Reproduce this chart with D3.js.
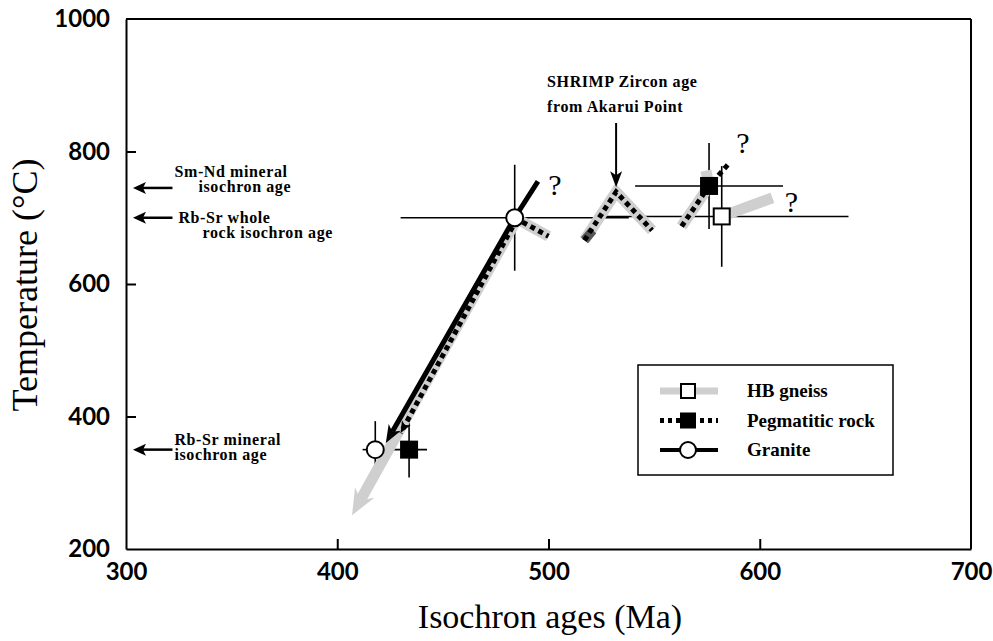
<!DOCTYPE html>
<meta charset="utf-8">
<style>
body { margin: 0; background: #fff; }
.axis path, .axis line { stroke: #000; stroke-width: 2px; }
.axis text { font-family: Lato, "Open Sans", sans-serif; font-weight: 700; font-size: 24px; fill: #000; }
.note { font-family: "Liberation Serif", "Times New Roman", serif; font-weight: 700; font-size: 16px; letter-spacing: 0.6px; }
.title { font-family: "Liberation Serif", "Times New Roman", serif; }
.eb { stroke: #000; stroke-width: 1.6px; }
</style>
<svg width="993" height="641"></svg>
<script src="https://d3js.org/d3.v7.min.js"></script>
<script>

// axis ticks
var xTicks = [300, 400, 500, 600, 700];
var yTicks = [200, 400, 600, 800, 1000];

// samples: [age (Ma), temperature (°C), age half-error, temp half-error]
var granite = [[484, 700, 54, 80], [418, 350, 6, 43]];
var pegmatite = [[576, 748, 35, 65], [434, 350, 8.5, 42]];
var hbGneiss = [[582, 702, 60, 76]];

// cooling paths [age, temp]
var graniteTrend = [[495, 755], [484, 700], [423, 360]];
var hbTrend = [[485, 698], [407, 251]];
var pegTrend = [[485, 698], [430, 375]];
var hbStubs = [
  [[484, 700], [500, 672]],
  [[517, 666], [532, 739], [549, 681]],
  [[563, 687], [576, 748], [574.5, 771]],
  [[582, 702], [606, 730]]
];
var pegStubs = [
  [[484, 700], [500, 672]],
  [[517, 666], [532, 739], [549, 681]],
  [[563, 687], [576, 748], [586, 784]]
];
var darkStub = [[517, 666], [521, 681]];

var questions = [[503, 734], [592, 798], [615, 709]];

var noteTemps = [745, 700, 350];
var noteLines = [["Sm-Nd mineral", "isochron age"], ["Rb-Sr whole", "rock isochron age"], ["Rb-Sr mineral", "isochron age"]];
var noteIndent = [[0, 24], [4, 28], [0, 0]];
var noteShift = [-11, 5, -5];

var shrimpAge = 532, shrimpFrom = 843, shrimpTo = 746;
var shrimpLines = ["SHRIMP Zircon age", "from Akarui Point"];

var legendNames = ["HB gneiss", "Pegmatitic rock", "Granite"];

var svg = d3.select("svg"),
    margin = {top: 19, right: 22, bottom: 92, left: 126},
    width = 993 - margin.left - margin.right,
    height = 641 - margin.top - margin.bottom,
    g = svg.append("g").attr("transform", "translate(" + margin.left + "," + margin.top + ")");

var x = d3.scaleLinear().domain([300, 700]).range([0, width]),
    y = d3.scaleLinear().domain([200, 1000]).range([height, 0]);

var line = d3.line()
    .x(function(d) { return x(d[0]); })
    .y(function(d) { return y(d[1]); });

// frame
g.append("line").attr("x1", 0).attr("x2", width).attr("y1", 0).attr("y2", 0)
    .attr("stroke", "#000").attr("stroke-width", 2);
g.append("line").attr("x1", width).attr("x2", width).attr("y1", 0).attr("y2", height)
    .attr("stroke", "#000").attr("stroke-width", 2);

g.append("g")
    .attr("class", "axis")
    .attr("transform", "translate(0," + height + ")")
    .call(d3.axisBottom(x).tickValues(xTicks).tickFormat(d3.format("d"))
      .tickSize(-10).tickSizeOuter(0).tickPadding(14));
g.append("g")
    .attr("class", "axis")
    .call(d3.axisLeft(y).tickValues(yTicks).tickFormat(d3.format("d"))
      .tickSize(-10).tickSizeOuter(0).tickPadding(16));
// no tick marks at the corners
g.selectAll(".axis .tick line").filter(function(d) { return d === 300 || d === 200 || d === 700 || d === 1000; }).remove();

// axis titles
svg.append("text").attr("class", "title")
    .attr("x", 550).attr("y", 628)
    .attr("text-anchor", "middle").style("font-size", "34px")
    .text("Isochron ages (Ma)");
svg.append("text").attr("class", "title")
    .attr("transform", "translate(37,285) rotate(-90)")
    .attr("text-anchor", "middle").style("font-size", "36px")
    .text("Temperature (°C)");

// error bars
function errorBars(pts) {
  pts.forEach(function(p) {
    g.append("line").attr("class", "eb")
        .attr("x1", x(p[0] - p[2])).attr("x2", x(p[0] + p[2]))
        .attr("y1", y(p[1])).attr("y2", y(p[1]));
    g.append("line").attr("class", "eb")
        .attr("x1", x(p[0])).attr("x2", x(p[0]))
        .attr("y1", y(p[1] - p[3])).attr("y2", y(p[1] + p[3]));
  });
}
errorBars(granite);
errorBars(pegmatite);
errorBars(hbGneiss);

// arrow head helper (pixel space from scaled points)
function arrowHead(a, b, len, half, notch, color) {
  var x1 = x(a[0]), y1 = y(a[1]), x2 = x(b[0]), y2 = y(b[1]);
  var ang = Math.atan2(y2 - y1, x2 - x1), c = Math.cos(ang), s = Math.sin(ang);
  function pt(back, side) { return [x2 - back * c - side * s, y2 - back * s + side * c]; }
  var pts = [pt(0, 0), pt(len, half), pt(len - notch, 0), pt(len, -half)];
  g.append("path").attr("d", "M" + pts.join("L") + "Z").attr("fill", color);
  return pt(len - notch, 0);
}

// gray HB gneiss paths
hbStubs.forEach(function(s) {
  g.append("path").attr("d", line(s))
      .attr("fill", "none").attr("stroke", "#cfcfcf").attr("stroke-width", 11);
});
var hbEnd = arrowHead(hbTrend[0], hbTrend[1], 26, 11, 9, "#cfcfcf");
g.append("path")
    .attr("d", d3.line()([[x(hbTrend[0][0]), y(hbTrend[0][1])], hbEnd]))
    .attr("fill", "none").attr("stroke", "#cfcfcf").attr("stroke-width", 11);

g.append("path").attr("d", line(darkStub))
    .attr("fill", "none").attr("stroke", "#555").attr("stroke-width", 9);

// granite solid path
var grEnd = arrowHead(graniteTrend[1], graniteTrend[2], 18, 7, 5, "#000");
g.append("path")
    .attr("d", d3.line()(graniteTrend.slice(0, 2).map(function(d) { return [x(d[0]), y(d[1])]; }).concat([grEnd])))
    .attr("fill", "none").attr("stroke", "#000").attr("stroke-width", 5);

// pegmatitic dotted paths
pegStubs.concat([pegTrend]).forEach(function(s) {
  g.append("path").attr("d", line(s))
      .attr("fill", "none").attr("stroke", "#000").attr("stroke-width", 5)
      .attr("stroke-dasharray", "5,4");
});
arrowHead(pegTrend[0], pegTrend[1], 12, 5, 3, "#000");

// markers
function squares(pts, fill) {
  g.selectAll(null).data(pts).enter().append("rect")
      .attr("x", function(d) { return x(d[0]) - 8; })
      .attr("y", function(d) { return y(d[1]) - 8; })
      .attr("width", 16).attr("height", 16)
      .attr("fill", fill).attr("stroke", "#000").attr("stroke-width", 2);
}
squares(pegmatite, "#000");
squares(hbGneiss, "#fff");
g.selectAll(null).data(granite).enter().append("circle")
    .attr("cx", function(d) { return x(d[0]); })
    .attr("cy", function(d) { return y(d[1]); })
    .attr("r", 8.5)
    .attr("fill", "#fff").attr("stroke", "#000").attr("stroke-width", 2);

// question marks
g.selectAll(null).data(questions).enter().append("text")
    .attr("class", "title")
    .attr("x", function(d) { return x(d[0]); })
    .attr("y", function(d) { return y(d[1]); })
    .attr("text-anchor", "middle").style("font-size", "30px")
    .text("?");

// left notes with arrows
noteTemps.forEach(function(t, i) {
  var yy = y(t);
  arrowHead([322, t], [303.3, t], 13, 6, 3, "#000");
  g.append("line").attr("x1", x(322)).attr("x2", x(303.3) + 10)
      .attr("y1", yy).attr("y2", yy).attr("stroke", "#000").attr("stroke-width", 2.5);
  noteLines[i].forEach(function(s, j) {
    g.append("text").attr("class", "note")
        .attr("x", x(322) + 2 + noteIndent[i][j])
        .attr("y", yy + noteShift[i] + j * 15)
        .text(s);
  });
});

// SHRIMP note
g.append("line")
    .attr("x1", x(shrimpAge)).attr("x2", x(shrimpAge))
    .attr("y1", y(shrimpFrom)).attr("y2", y(shrimpTo) - 8)
    .attr("stroke", "#000").attr("stroke-width", 2);
arrowHead([shrimpAge, shrimpFrom], [shrimpAge, shrimpTo], 16, 6, 4, "#000");
shrimpLines.forEach(function(s, j) {
  g.append("text").attr("class", "note")
      .attr("x", x(shrimpAge) - 69).attr("y", y(shrimpFrom) - 36 + j * 25)
      .text(s);
});

// legend
var legend = svg.append("g").attr("transform", "translate(638,365)");
legend.append("rect").attr("width", 255).attr("height", 110)
    .attr("fill", "#fff").attr("stroke", "#000").attr("stroke-width", 1.5);
var rows = legend.selectAll(".legend").data(legendNames).enter().append("g")
    .attr("class", "legend")
    .attr("transform", function(d, i) { return "translate(0," + (26 + i * 29.5) + ")"; });
rows.append("text").attr("class", "title")
    .attr("x", 109).attr("y", 6)
    .style("font-size", "19px").style("font-weight", 700)
    .text(function(d) { return d; });
var r0 = rows.filter(function(d, i) { return i === 0; });
r0.append("line").attr("x1", 22).attr("x2", 80).attr("stroke", "#cfcfcf").attr("stroke-width", 7);
r0.append("rect").attr("x", 43).attr("y", -7).attr("width", 14).attr("height", 14)
    .attr("fill", "#fff").attr("stroke", "#000").attr("stroke-width", 2);
var r1 = rows.filter(function(d, i) { return i === 1; });
r1.append("line").attr("x1", 22).attr("x2", 80).attr("stroke", "#000").attr("stroke-width", 5)
    .attr("stroke-dasharray", "4,4");
r1.append("rect").attr("x", 42).attr("y", -8).attr("width", 16).attr("height", 16).attr("fill", "#000");
var r2 = rows.filter(function(d, i) { return i === 2; });
r2.append("line").attr("x1", 22).attr("x2", 80).attr("stroke", "#000").attr("stroke-width", 4);
r2.append("circle").attr("cx", 50).attr("r", 8)
    .attr("fill", "#fff").attr("stroke", "#000").attr("stroke-width", 2);

</script>
